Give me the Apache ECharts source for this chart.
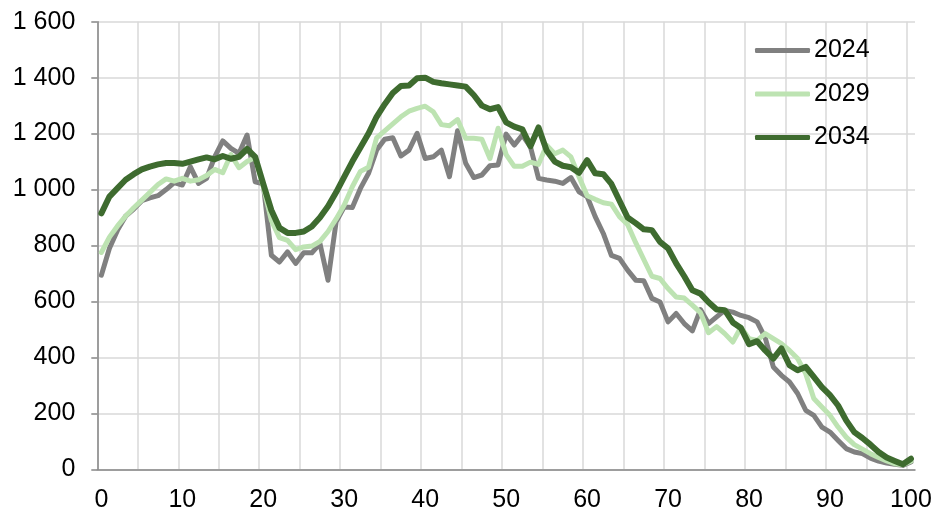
<!DOCTYPE html>
<html><head><meta charset="utf-8">
<script src="https://cdn.jsdelivr.net/npm/echarts@6/dist/echarts.min.js"></script>
<style>html,body{margin:0;padding:0;background:#fff}#c{width:934px;height:513px}</style>
</head><body><div id="c"></div>
<script>
const ages = Array.from({length: 101}, (_, i) => String(i));
const seriesNames = ['2024', '2029', '2034'];
const s2024 = [694,790,855,905,930,960,970,978,1000,1025,1016,1081,1022,1040,1117,1174,1147,1129,1195,1028,
  1020,765,741,777,736,774,774,807,676,885,938,936,1004,1058,1141,1180,1185,1120,1141,1201,
  1111,1117,1141,1046,1210,1094,1043,1052,1085,1088,1198,1159,1195,1153,1040,1034,1030,1022,1043,992,
  975,903,843,765,754,712,676,674,611,598,527,557,521,495,571,521,545,568,562,550,
  542,527,470,366,336,312,271,211,193,151,133,103,74,62,56,40,29,22,18,14,26];
const s2029 = [775,830,870,905,935,962,990,1018,1038,1030,1040,1030,1035,1050,1072,1060,1125,1078,1100,1115,
  1010,890,828,818,785,795,798,815,850,895,945,1010,1065,1080,1185,1210,1235,1260,1280,1290,
  1298,1278,1232,1228,1250,1183,1183,1180,1111,1219,1125,1083,1083,1098,1090,1158,1128,1141,1117,1046,
  978,965,953,948,903,875,810,750,690,682,646,616,612,587,560,488,510,485,455,508,
  467,461,485,467,449,425,396,342,253,223,193,151,115,88,72,56,42,30,20,16,29];
const s2034 = [915,975,1005,1035,1055,1072,1082,1090,1095,1095,1092,1100,1108,1115,1108,1120,1110,1117,1145,1117,
  1020,926,863,845,845,850,868,900,940,990,1045,1100,1150,1200,1260,1305,1345,1370,1372,1398,
  1400,1385,1380,1376,1372,1368,1338,1300,1287,1295,1240,1225,1215,1155,1222,1140,1100,1085,1080,1060,
  1105,1058,1055,1020,960,900,880,858,855,813,790,736,690,640,628,597,571,569,525,505,
  447,458,425,396,432,372,354,366,330,294,265,228,175,133,112,88,62,42,30,18,38];
const yTicks = [0, 200, 400, 600, 800, 1000, 1200, 1400, 1600];

const FONT = 'Liberation Sans, Arial, sans-serif';
const axisGray = '#868686';
const gridGray = '#d9d9d9';
const colors = ['#808080', '#bde3b2', '#3e6b2f'];
const widths = [5, 5, 6];
const fmt = v => String(v).replace(/\B(?=(\d{3})+(?!\d))/g, ' ');

const chart = echarts.init(document.getElementById('c'), null, {renderer: 'canvas'});
chart.setOption({
  animation: false,
  backgroundColor: '#fff',
  color: colors,
  grid: {left: 97.3, right: 19, top: 21.7, bottom: 43.7, outerBoundsMode: 'none'},
  legend: {
    orient: 'vertical', left: 755, top: 38, padding: 0,
    icon: 'roundRect',
    itemWidth: 55, itemHeight: 5, itemGap: 18.5,
    textStyle: {fontFamily: FONT, fontSize: 25, color: '#000', lineHeight: 24, padding: [0, 0, 0, -1]},
    data: seriesNames
  },
  xAxis: {
    type: 'category', data: ages, boundaryGap: true,
    axisLine: {lineStyle: {color: axisGray, width: 1.5}},
    axisTick: {interval: 4, length: 7, lineStyle: {color: axisGray, width: 1.5}},
    axisLabel: {interval: 9, fontFamily: FONT, fontSize: 25, color: '#000', margin: 18},
    splitLine: {show: true, interval: 4, showMaxLine: false, lineStyle: {color: gridGray, width: 1.5}}
  },
  yAxis: {
    type: 'value', min: yTicks[0], max: yTicks[yTicks.length - 1], interval: yTicks[1] - yTicks[0],
    axisLine: {show: true, lineStyle: {color: axisGray, width: 1.5}},
    axisTick: {show: true, length: 6, lineStyle: {color: axisGray, width: 1.5}},
    axisLabel: {fontFamily: FONT, fontSize: 25, color: '#000', margin: 22, formatter: fmt},
    splitLine: {show: true, lineStyle: {color: gridGray, width: 1.5}}
  },
  series: seriesNames.map((name, k) => ({
    name, type: 'line', data: [s2024, s2029, s2034][k], symbol: 'none', showSymbol: false,
    itemStyle: {color: colors[k]},
    lineStyle: {width: widths[k], color: colors[k], join: 'round', cap: 'round'}
  }))
});
</script>
</body></html>
